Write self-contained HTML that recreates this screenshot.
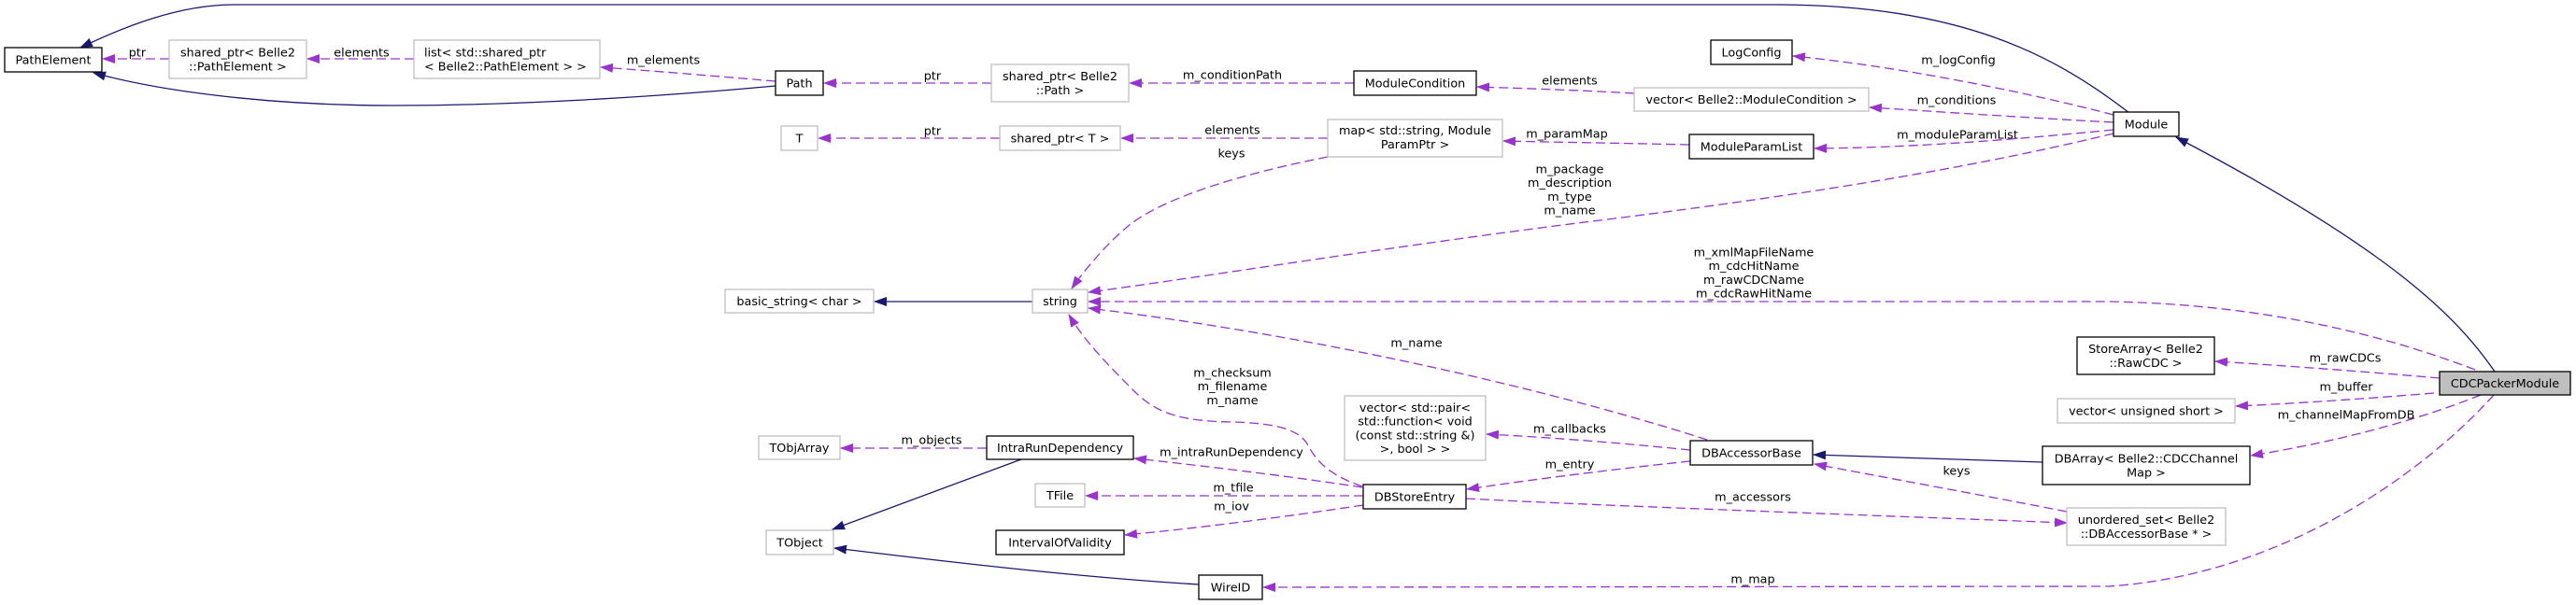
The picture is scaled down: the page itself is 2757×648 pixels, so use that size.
<!DOCTYPE html>
<html><head><meta charset="utf-8"><style>
html,body{margin:0;padding:0;background:#fff;overflow:hidden}
svg{display:block}
text{font-family:"DejaVu Sans","Liberation Sans",sans-serif;font-size:12.8px;fill:#000}
</style></head><body>
<svg width="2757" height="648" viewBox="0 0 2757 648" xmlns="http://www.w3.org/2000/svg">
<defs>
<marker id="ap" markerUnits="userSpaceOnUse" markerWidth="14" markerHeight="10" refX="13" refY="5" orient="auto"><path d="M0,0 L14,5 L0,10 z" fill="#9a32cd"/></marker>
<marker id="an" markerUnits="userSpaceOnUse" markerWidth="14" markerHeight="10" refX="13" refY="5" orient="auto"><path d="M0,0 L14,5 L0,10 z" fill="#191970"/></marker>
</defs>
<rect width="2757" height="648" fill="#fff"/>

<!-- navy inheritance edges -->
<g fill="none" stroke="#191970" stroke-width="1.3" marker-end="url(#an)">
<path d="M2279,121 C2200,60 2100,5 1900,5 L250,5 C190,5 130,30 86,51"/>
<path d="M830,92 C700,104 550,113 420,113 C300,113 180,100 100,78"/>
<path d="M1105,323 L936,323"/>
<path d="M2670,398 C2630,340 2560,268 2329,147"/>
<path d="M2186,495 L1941,487"/>
<path d="M1093,492 L891,567"/>
<path d="M1283,626 C1150,618 1000,600 893,587"/>
</g>

<!-- purple dashed edges -->
<g fill="none" stroke="#9a32cd" stroke-width="1.3" stroke-dasharray="10,5" marker-end="url(#ap)">
<path d="M181,63 L110,63"/>
<path d="M443,63 L329,63"/>
<path d="M830,87 C760,81 700,76 643,72"/>
<path d="M1061,89 L882,89"/>
<path d="M1449,89 L1209,89"/>
<path d="M1749,100 C1700,97 1640,95 1581,93"/>
<path d="M2262,123 C2150,94 2020,70 1919,60"/>
<path d="M2262,131 C2150,125 2050,118 2001,115"/>
<path d="M2262,139 C2150,150 2050,158 1942,159"/>
<path d="M2262,143 C2150,170 2000,200 1720,235 C1500,262 1300,295 1165,313"/>
<path d="M2649,396 C2560,362 2430,326 2257,323 L1165,323"/>
<path d="M1421,168 C1330,186 1250,210 1210,240 C1185,260 1160,290 1147,309"/>
<path d="M1421,148 L1200,148"/>
<path d="M1808,155 C1720,153 1650,152 1609,151"/>
<path d="M1070,148 L876,148"/>
<path d="M2611,405 C2520,397 2420,390 2371,387"/>
<path d="M2605,421 C2520,428 2440,433 2393,435"/>
<path d="M2655,423 C2600,445 2520,470 2409,488"/>
<path d="M2669,423 C2600,500 2450,615 2257,628 L1352,629"/>
<path d="M1827,471 C1700,430 1450,365 1165,330"/>
<path d="M1809,482 C1720,473 1650,468 1591,465"/>
<path d="M1809,494 C1750,500 1650,512 1570,524"/>
<path d="M2212,548 C2120,530 2020,512 1942,497"/>
<path d="M1569,534 C1700,541 1950,550 2212,560"/>
<path d="M1056,480 L900,480"/>
<path d="M1458,522 C1380,510 1280,498 1214,491"/>
<path d="M1459,531 L1162,531"/>
<path d="M1459,541 C1380,553 1280,566 1204,573"/>
<path d="M1458,521 C1420,508 1408,492 1400,477 C1390,458 1360,453 1317,452 C1270,451 1240,445 1215,420 C1190,395 1160,365 1144,337"/>
</g>

<!-- nodes -->
<g stroke-width="1.3">
<rect x="5" y="51" width="104" height="26" fill="#fff" stroke="#000"/>
<rect x="181" y="43" width="147" height="41" fill="#fff" stroke="#bfbfbf"/>
<rect x="443" y="43" width="199" height="41" fill="#fff" stroke="#bfbfbf"/>
<rect x="830" y="76" width="51" height="26" fill="#fff" stroke="#000"/>
<rect x="1061" y="69" width="147" height="40" fill="#fff" stroke="#bfbfbf"/>
<rect x="1449" y="76" width="131" height="26" fill="#fff" stroke="#000"/>
<rect x="1749" y="94" width="251" height="25" fill="#fff" stroke="#bfbfbf"/>
<rect x="1831" y="43" width="87" height="26" fill="#fff" stroke="#000"/>
<rect x="2262" y="120" width="70" height="26" fill="#fff" stroke="#000"/>
<rect x="836" y="135" width="39" height="26" fill="#fff" stroke="#bfbfbf"/>
<rect x="1070" y="135" width="129" height="26" fill="#fff" stroke="#bfbfbf"/>
<rect x="1421" y="128" width="187" height="40" fill="#fff" stroke="#bfbfbf"/>
<rect x="1808" y="144" width="133" height="26" fill="#fff" stroke="#000"/>
<rect x="776" y="310" width="159" height="25" fill="#fff" stroke="#bfbfbf"/>
<rect x="1105" y="310" width="59" height="25" fill="#fff" stroke="#bfbfbf"/>
<rect x="2223" y="361" width="147" height="40" fill="#fff" stroke="#000"/>
<rect x="2202" y="427" width="190" height="26" fill="#fff" stroke="#bfbfbf"/>
<rect x="2611" y="398" width="140" height="25" fill="#bfbfbf" stroke="#000"/>
<rect x="1439" y="424" width="151" height="69" fill="#fff" stroke="#bfbfbf"/>
<rect x="1809" y="472" width="131" height="26" fill="#fff" stroke="#000"/>
<rect x="2186" y="478" width="222" height="41" fill="#fff" stroke="#000"/>
<rect x="812" y="467" width="87" height="25" fill="#fff" stroke="#bfbfbf"/>
<rect x="1056" y="467" width="157" height="25" fill="#fff" stroke="#000"/>
<rect x="1108" y="518" width="53" height="25" fill="#fff" stroke="#bfbfbf"/>
<rect x="1459" y="519" width="110" height="26" fill="#fff" stroke="#000"/>
<rect x="1066" y="568" width="137" height="26" fill="#fff" stroke="#000"/>
<rect x="820" y="568" width="72" height="26" fill="#fff" stroke="#bfbfbf"/>
<rect x="1283" y="616" width="68" height="26" fill="#fff" stroke="#000"/>
<rect x="2212" y="544" width="170" height="40" fill="#fff" stroke="#bfbfbf"/>
</g>

<!-- node labels -->
<g text-anchor="middle">
<text x="57" y="68.5">PathElement</text>
<text x="254.5" y="60.5">shared_ptr&lt; Belle2</text>
<text x="254.5" y="75.5">::PathElement &gt;</text>
<text x="855.5" y="93.5">Path</text>
<text x="1134.5" y="86">shared_ptr&lt; Belle2</text>
<text x="1134.5" y="101">::Path &gt;</text>
<text x="1514.5" y="93.5">ModuleCondition</text>
<text x="1874.5" y="111">vector&lt; Belle2::ModuleCondition &gt;</text>
<text x="1874.5" y="60.5">LogConfig</text>
<text x="2297" y="137.5">Module</text>
<text x="855.5" y="152.5">T</text>
<text x="1134.5" y="152.5">shared_ptr&lt; T &gt;</text>
<text x="1514.5" y="144">map&lt; std::string, Module</text>
<text x="1514.5" y="159">ParamPtr &gt;</text>
<text x="1874.5" y="161.5">ModuleParamList</text>
<text x="855.5" y="327">basic_string&lt; char &gt;</text>
<text x="1134.5" y="327">string</text>
<text x="2296.5" y="378">StoreArray&lt; Belle2</text>
<text x="2296.5" y="393">::RawCDC &gt;</text>
<text x="2297" y="444.5">vector&lt; unsigned short &gt;</text>
<text x="2681" y="415">CDCPackerModule</text>
<text x="1514.5" y="441">vector&lt; std::pair&lt;</text>
<text x="1514.5" y="455.7">std::function&lt; void</text>
<text x="1514.5" y="470.3">(const std::string &amp;)</text>
<text x="1514.5" y="485">&gt;, bool &gt; &gt;</text>
<text x="1874.5" y="489.5">DBAccessorBase</text>
<text x="2297" y="495.5">DBArray&lt; Belle2::CDCChannel</text>
<text x="2297" y="510.5">Map &gt;</text>
<text x="855.5" y="484">TObjArray</text>
<text x="1134.5" y="484">IntraRunDependency</text>
<text x="1134.5" y="535">TFile</text>
<text x="1514" y="536.5">DBStoreEntry</text>
<text x="1134.5" y="585.5">IntervalOfValidity</text>
<text x="856" y="585.5">TObject</text>
<text x="1317" y="633.5">WireID</text>
<text x="2297" y="561">unordered_set&lt; Belle2</text>
<text x="2297" y="576">::DBAccessorBase * &gt;</text>
</g>
<text x="454" y="60.5">list&lt; std::shared_ptr</text>
<text x="454" y="75.5">&lt; Belle2::PathElement &gt; &gt;</text>

<!-- edge labels -->
<g text-anchor="middle">
<text x="147" y="60.5">ptr</text>
<text x="387" y="60.5">elements</text>
<text x="710" y="68.5">m_elements</text>
<text x="998" y="85.5">ptr</text>
<text x="1319" y="84.5">m_conditionPath</text>
<text x="1680" y="90.5">elements</text>
<text x="2096" y="68.5">m_logConfig</text>
<text x="2094" y="111.5">m_conditions</text>
<text x="2095" y="148.5">m_moduleParamList</text>
<text x="998" y="144.5">ptr</text>
<text x="1319" y="143.5">elements</text>
<text x="1677" y="147.5">m_paramMap</text>
<text x="1318" y="168.5">keys</text>
<text x="1680" y="185.5">m_package</text>
<text x="1680" y="200.2">m_description</text>
<text x="1680" y="214.9">m_type</text>
<text x="1680" y="229.6">m_name</text>
<text x="1877" y="274.5">m_xmlMapFileName</text>
<text x="1877" y="289.2">m_cdcHitName</text>
<text x="1877" y="303.9">m_rawCDCName</text>
<text x="1877" y="318.6">m_cdcRawHitName</text>
<text x="1516" y="371.5">m_name</text>
<text x="1319" y="403.5">m_checksum</text>
<text x="1319" y="418.2">m_filename</text>
<text x="1319" y="432.9">m_name</text>
<text x="2510" y="387.5">m_rawCDCs</text>
<text x="2511" y="418.5">m_buffer</text>
<text x="2511" y="448.5">m_channelMapFromDB</text>
<text x="1680" y="463.5">m_callbacks</text>
<text x="1680" y="501.5">m_entry</text>
<text x="2094" y="508.5">keys</text>
<text x="1876" y="536.5">m_accessors</text>
<text x="997" y="475.5">m_objects</text>
<text x="1318" y="488.5">m_intraRunDependency</text>
<text x="1320" y="526.5">m_tfile</text>
<text x="1318" y="546.5">m_iov</text>
<text x="1876" y="624.5">m_map</text>
</g>
</svg>
</body></html>
